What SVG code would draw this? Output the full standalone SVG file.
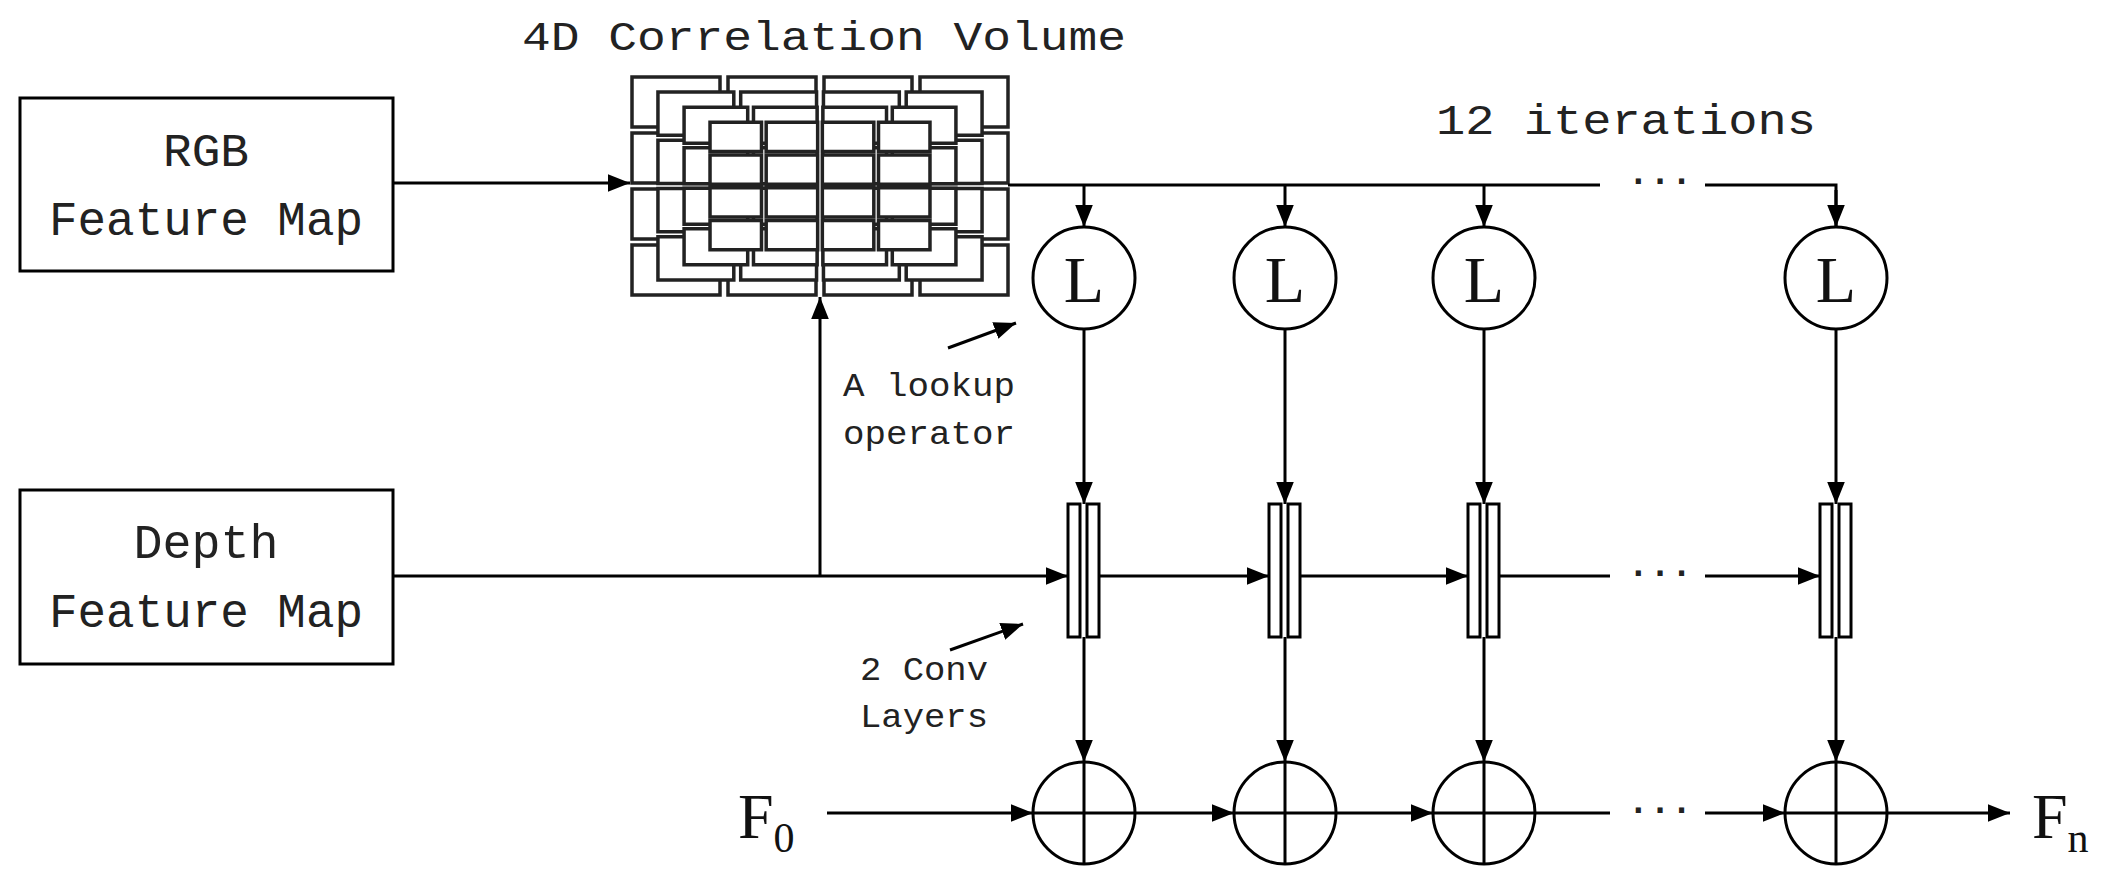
<svg xmlns="http://www.w3.org/2000/svg" width="2125" height="870" viewBox="0 0 2125 870">
<style>
.ln{stroke:#000;stroke-width:3;fill:none}
.box{stroke:#000;stroke-width:3;fill:#fff}
.cell{stroke:#222;stroke-width:3.5;fill:#fff;vector-effect:non-scaling-stroke}
.t{font-family:"Liberation Mono",monospace;fill:#222}
.s{font-family:"Liberation Serif",serif;fill:#111}
</style>
<defs>
<marker id="b" viewBox="0 0 10 10" refX="10" refY="5" markerWidth="22" markerHeight="22" orient="auto" markerUnits="userSpaceOnUse"><path d="M0,1L10,5L0,9z" fill="#000"/></marker>
<g id="grid">
<rect class="cell" x="-188" y="-109" width="88" height="50"/><rect class="cell" x="-92" y="-109" width="88" height="50"/><rect class="cell" x="4" y="-109" width="88" height="50"/><rect class="cell" x="100" y="-109" width="88" height="50"/>
<rect class="cell" x="-188" y="-53" width="88" height="50"/><rect class="cell" x="-92" y="-53" width="88" height="50"/><rect class="cell" x="4" y="-53" width="88" height="50"/><rect class="cell" x="100" y="-53" width="88" height="50"/>
<rect class="cell" x="-188" y="3" width="88" height="50"/><rect class="cell" x="-92" y="3" width="88" height="50"/><rect class="cell" x="4" y="3" width="88" height="50"/><rect class="cell" x="100" y="3" width="88" height="50"/>
<rect class="cell" x="-188" y="59" width="88" height="50"/><rect class="cell" x="-92" y="59" width="88" height="50"/><rect class="cell" x="4" y="59" width="88" height="50"/><rect class="cell" x="100" y="59" width="88" height="50"/>
</g>
<g id="L"><circle r="51" class="box"/><text y="24" text-anchor="middle" class="s" font-size="66">L</text></g>
<g id="P"><circle r="51" class="box"/><path d="M-51,0H51M0,-51V51" class="ln"/></g>
<g id="C"><rect x="-16" y="0" width="12" height="133" class="box" stroke-width="2.5"/><rect x="3" y="0" width="12" height="133" class="box" stroke-width="2.5"/></g>
</defs>
<g id="rgb"><rect x="20" y="98" width="373" height="173" class="box"/><text x="206" y="166" text-anchor="middle" class="t" font-size="46" textLength="86" lengthAdjust="spacingAndGlyphs">RGB</text><text x="206" y="235" text-anchor="middle" class="t" font-size="48" textLength="314" lengthAdjust="spacingAndGlyphs">Feature Map</text></g>
<g id="depth"><rect x="20" y="490" width="373" height="174" class="box"/><text x="206" y="558" text-anchor="middle" class="t" font-size="48" textLength="145" lengthAdjust="spacingAndGlyphs">Depth</text><text x="206" y="627" text-anchor="middle" class="t" font-size="48" textLength="314" lengthAdjust="spacingAndGlyphs">Feature Map</text></g>
<g id="volume">
<text x="824" y="50" text-anchor="middle" class="t" font-size="40" fill="#2a2010" textLength="604" lengthAdjust="spacingAndGlyphs">4D Correlation Volume</text>
<use href="#grid" transform="translate(820,186)"/>
<use href="#grid" transform="translate(820,186) scale(0.862)"/>
<use href="#grid" transform="translate(820,186) scale(0.723)"/>
<use href="#grid" transform="translate(820,186) scale(0.585)"/>
</g>
<g id="labels">
<text x="1626" y="134" text-anchor="middle" class="t" font-size="42" textLength="380" lengthAdjust="spacingAndGlyphs">12 iterations</text>
<text x="843" y="396" class="t" font-size="34" textLength="172" lengthAdjust="spacingAndGlyphs">A lookup</text>
<text x="843" y="444" class="t" font-size="34" textLength="172" lengthAdjust="spacingAndGlyphs">operator</text>
<text x="860" y="680" class="t" font-size="34" textLength="128" lengthAdjust="spacingAndGlyphs">2 Conv</text>
<text x="860" y="727" class="t" font-size="34" textLength="128" lengthAdjust="spacingAndGlyphs">Layers</text>
<text x="738" y="838" class="s" font-size="64">F<tspan font-size="42" dy="14">0</tspan></text>
<text x="2032" y="838" class="s" font-size="64">F<tspan font-size="42" dy="14">n</tspan></text>
<text x="1660" y="192" text-anchor="middle" class="t" font-size="36" font-weight="bold">···</text>
<text x="1660" y="584" text-anchor="middle" class="t" font-size="36" font-weight="bold">···</text>
<text x="1660" y="821" text-anchor="middle" class="t" font-size="36" font-weight="bold">···</text>
</g>
<g id="nodes">
<use href="#L" x="1084" y="278"/><use href="#L" x="1285" y="278"/><use href="#L" x="1484" y="278"/><use href="#L" x="1836" y="278"/>
<use href="#C" x="1084" y="504"/><use href="#C" x="1285" y="504"/><use href="#C" x="1484" y="504"/><use href="#C" x="1836" y="504"/>
<use href="#P" x="1084" y="813"/><use href="#P" x="1285" y="813"/><use href="#P" x="1484" y="813"/><use href="#P" x="1836" y="813"/>
</g>
<g id="connectors" class="ln">
<path d="M393,183H630" marker-end="url(#b)"/>
<path d="M1008,185H1600M1705,185H1836V227"/>
<path d="M1084,185V227" marker-end="url(#b)"/><path d="M1285,185V227" marker-end="url(#b)"/><path d="M1484,185V227" marker-end="url(#b)"/><path d="M1836,190V227" marker-end="url(#b)"/>
<path d="M1084,329V504" marker-end="url(#b)"/><path d="M1285,329V504" marker-end="url(#b)"/><path d="M1484,329V504" marker-end="url(#b)"/><path d="M1836,329V504" marker-end="url(#b)"/>
<path d="M393,576H1068" marker-end="url(#b)"/>
<path d="M820,576V297" marker-end="url(#b)"/>
<path d="M1100,576H1269" marker-end="url(#b)"/><path d="M1301,576H1468" marker-end="url(#b)"/>
<path d="M1500,576H1610"/><path d="M1705,576H1820" marker-end="url(#b)"/>
<path d="M1084,637V762" marker-end="url(#b)"/><path d="M1285,637V762" marker-end="url(#b)"/><path d="M1484,637V762" marker-end="url(#b)"/><path d="M1836,637V762" marker-end="url(#b)"/>
<path d="M827,813H1033" marker-end="url(#b)"/><path d="M1135,813H1234" marker-end="url(#b)"/><path d="M1336,813H1433" marker-end="url(#b)"/>
<path d="M1535,813H1610"/><path d="M1705,813H1785" marker-end="url(#b)"/><path d="M1887,813H2010" marker-end="url(#b)"/>
<path d="M948,348L1016,323" marker-end="url(#b)"/>
<path d="M950,650L1023,624" marker-end="url(#b)"/>
</g>
</svg>
